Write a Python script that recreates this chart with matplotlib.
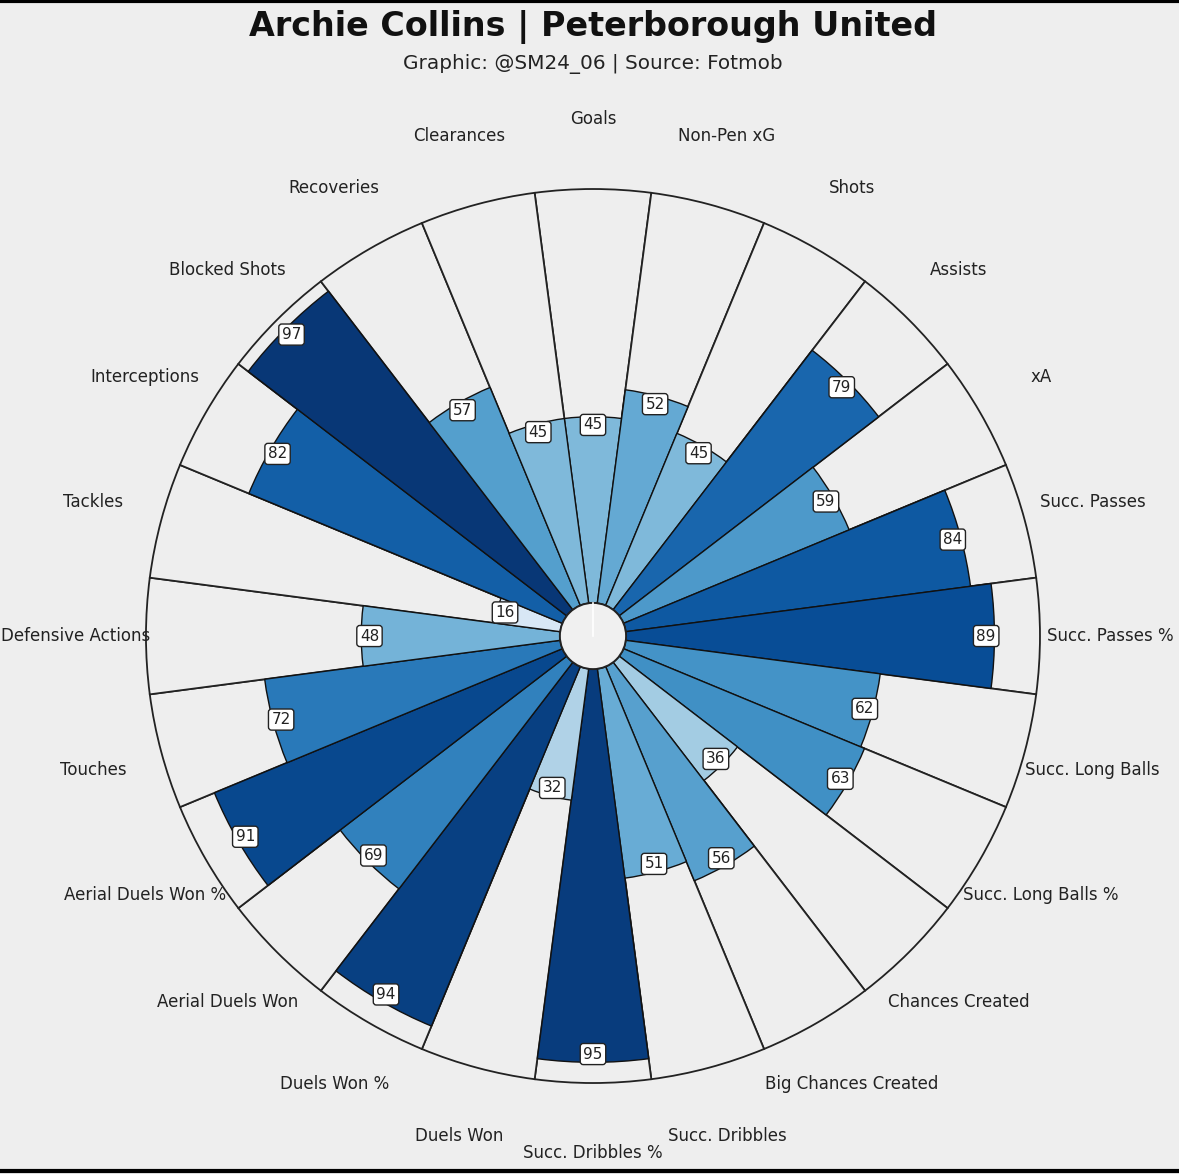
import numpy as np
import matplotlib.pyplot as plt
from matplotlib.lines import Line2D
from matplotlib.patches import Circle

# params listed clockwise starting at the top
params = ["Goals", "Non-Pen xG", "Shots", "Assists", "xA", "Succ. Passes",
          "Succ. Passes %", "Succ. Long Balls", "Succ. Long Balls %",
          "Chances Created", "Big Chances Created", "Succ. Dribbles",
          "Succ. Dribbles %", "Duels Won", "Duels Won %", "Aerial Duels Won",
          "Aerial Duels Won %", "Touches", "Defensive Actions", "Tackles",
          "Interceptions", "Blocked Shots", "Recoveries", "Clearances"]
values = [45, 52, 45, 79, 59, 84, 89, 62, 63, 36, 56, 51,
          95, 32, 94, 69, 91, 72, 48, 16, 82, 97, 57, 45]

title = "Archie Collins | Peterborough United"
subtitle = "Graphic: @SM24_06 | Source: Fotmob"

bg = "#eeeeee"
edge = "#222222"

fig = plt.figure(figsize=(11.79, 11.74), dpi=100, facecolor=bg)
ax = fig.add_axes([0.1238, 0.0775, 0.7583, 0.7615], projection="polar")
ax.set_facecolor(bg)
ax.set_theta_zero_location("N")
ax.set_theta_direction(-1)
ax.set_ylim(-8, 100)

n = len(params)
theta = np.arange(n) * 2 * np.pi / n
width = 2 * np.pi / n

# background slices
bars_bg = ax.bar(theta, [100] * n, width=width, bottom=0, color=bg,
                 edgecolor=edge, linewidth=1.3, zorder=1)
# value slices
cols = plt.cm.Blues(np.array(values) / 100)
bars = ax.bar(theta, values, width=width, bottom=0, color=cols,
              edgecolor="#111111", linewidth=1.0, zorder=2)
for b in list(bars_bg) + list(bars):
    b.set_clip_on(False)

# center circle
rc = 0.5 * 8 / 108
ax.add_patch(Circle((0.5, 0.5), rc, transform=ax.transAxes, facecolor="#f0f0f0",
                    edgecolor=edge, linewidth=1.4, zorder=3, clip_on=False))
ax.add_artist(Line2D([0.5, 0.5], [0.5, 0.5 + rc], transform=ax.transAxes,
                     color="white", lw=1.2, zorder=4))

for t, p, v in zip(theta, params, values):
    ax.text(t, 117, p, ha="center", va="center", fontsize=12, color="#222222")
    ax.text(t, v - 2, str(v), ha="center", va="center", fontsize=11,
            color="#222222", zorder=5,
            bbox=dict(boxstyle="round,pad=0.2", facecolor="white",
                      edgecolor="#222222", linewidth=1))

ax.grid(False)
ax.set_xticks([])
ax.set_yticks([])
ax.spines["polar"].set_visible(False)

fig.text(0.503, 0.977, title, ha="center", va="center", fontsize=24,
         fontweight="bold", color="#111111")
fig.text(0.503, 0.9455, subtitle, ha="center", va="center", fontsize=14.4,
         color="#222222")

fig.add_artist(Line2D([0, 1], [0.9995, 0.9995], color="black", lw=3))
fig.add_artist(Line2D([0, 1], [0.0025, 0.0025], color="black", lw=3))

fig.savefig("out.png", dpi=100, facecolor=bg)
